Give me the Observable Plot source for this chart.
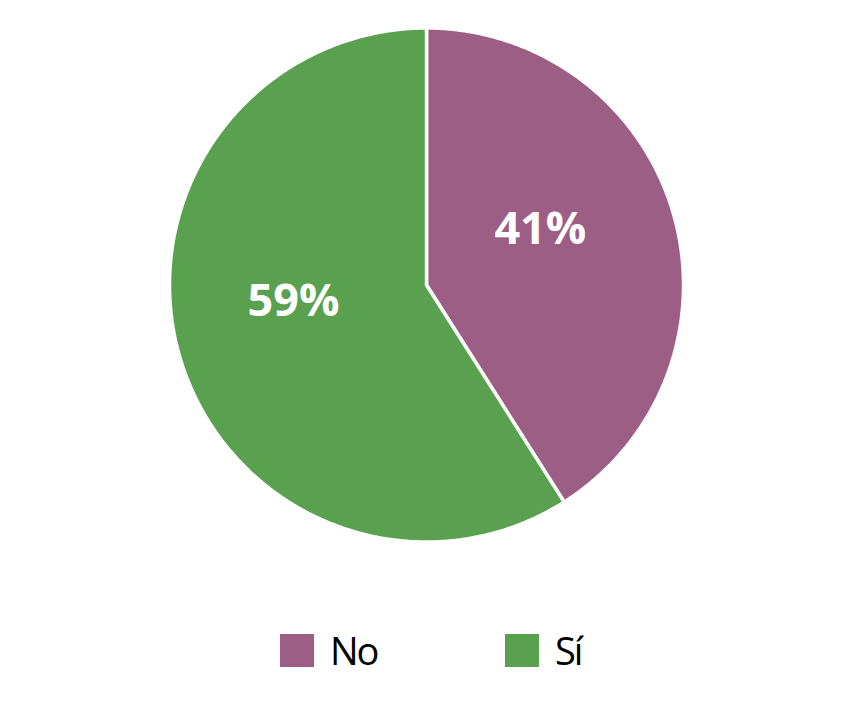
<!DOCTYPE html>
<html>
<head>
<meta charset="utf-8">
<script src="https://cdn.jsdelivr.net/npm/d3@7"></script>
<script src="https://cdn.jsdelivr.net/npm/@observablehq/plot@0.6"></script>
<style>
  html, body { margin: 0; padding: 0; background: #fff; }
  #wrap { position: relative; width: 863px; height: 709px; }
  #legend { position: absolute; left: 0; top: 630px; width: 863px; height: 40px; font-family: "Open Sans", sans-serif; }
  .item { position: absolute; top: 0; display: flex; align-items: center; height: 40px; }
  .sw { width: 34px; height: 33px; margin-right: 16px; }
  .lab { font-size: 38px; letter-spacing: -2px; color: #000; line-height: 40px; }
</style>
</head>
<body>
<div id="wrap"></div>
<script>
const categories = ["No", "Sí"];
const values = [41, 59];
const labels = ["41%", "59%"];
const colors = ["#9c5e85", "#59a14f"];

const W = 863, H = 580;
const R = 257;           // pixel radius
const cx = 426, cy = 284.5;

const pie = d3.pie().sort(null).value(d => d.value);
const arcs = pie(categories.map((c, i) => ({category: c, value: values[i], label: labels[i]})));

// polygon points for each slice (unit circle, y up, angle clockwise from top)
const pts = [];
arcs.forEach(a => {
  const c = a.data.category;
  pts.push({category: c, x: 0, y: 0});
  const n = Math.max(2, Math.ceil((a.endAngle - a.startAngle) / 0.01));
  for (let k = 0; k <= n; k++) {
    const t = a.startAngle + (a.endAngle - a.startAngle) * k / n;
    pts.push({category: c, x: Math.sin(t), y: Math.cos(t)});
  }
  pts.push({category: c, x: 0, y: 0});
});

const labelPts = arcs.map(a => {
  const t = (a.startAngle + a.endAngle) / 2;
  const rr = 0.5;
  return {label: a.data.label, x: rr * Math.sin(t) - 0.037, y: rr * Math.cos(t) + 0.075};
});

const chart = Plot.plot({
  width: W,
  height: H,
  margin: 0,
  x: {domain: [-cx / R, (W - cx) / R], range: [0, W], axis: null},
  y: {domain: [-(H - cy) / R, cy / R], range: [H, 0], axis: null},
  color: {domain: categories, range: colors},
  marks: [
    Plot.line(pts, {x: "x", y: "y", z: "category", fill: "category", stroke: "white", strokeWidth: 3.5, strokeLinejoin: "miter", curve: "linear"}),
    Plot.text(labelPts, {x: "x", y: "y", text: "label", fill: "white", fontSize: 45, fontWeight: "bold", fontFamily: "Open Sans, sans-serif"})
  ]
});

const wrap = document.getElementById("wrap");
wrap.appendChild(chart);

const legend = d3.select(wrap).append("div").attr("id", "legend");
const lefts = [280, 505];
categories.forEach((c, i) => {
  const it = legend.append("div").attr("class", "item").style("left", lefts[i] + "px");
  it.append("div").attr("class", "sw").style("background", colors[i]);
  it.append("span").attr("class", "lab").text(c);
});
</script>
</body>
</html>
